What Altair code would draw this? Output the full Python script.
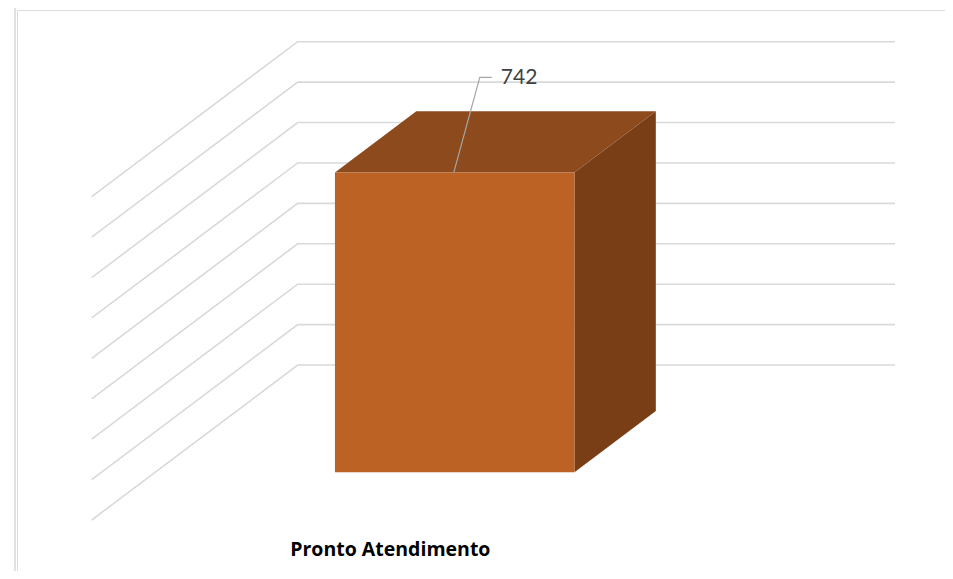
import altair as alt
import pandas as pd

# ---------------- data ----------------
categories = ["Pronto Atendimento"]
values = [742]
grid_values = [0, 100, 200, 300, 400, 500, 600, 700, 800]

# ---------------- geometry / style ----------------
VIEW_LEFT, VIEW_TOP = 17, 10          # page position of the plot view
W, H = 928, 561                       # plot view size
WALL_X0, FLOOR_Y0 = 297.7, 365.0      # page position of back-wall origin (u=0, v=0, depth 0)
PX_PER_U = 597.3                      # pixels per category band along the back wall
PX_PER_V = 0.4041                     # pixels per value unit
DEPTH_DX, DEPTH_DY = 206.0, 155.0     # oblique shift (left, down) for full depth
KX = DEPTH_DX / PX_PER_U
KY = DEPTH_DY / PX_PER_V
BAR_U = (0.301, 0.702)                # bar extent within its category band
BAR_W = (0.297, 0.692)                # bar extent in depth

x0 = WALL_X0 - VIEW_LEFT
y0 = FLOOR_Y0 - VIEW_TOP
xdom = [-x0 / PX_PER_U, (W - x0) / PX_PER_U]
ydom = [(y0 - H) / PX_PER_V, y0 / PX_PER_V]


def px(u, w):
    return u - KX * w


def pv(v, w):
    return v - KY * w


xs = alt.Scale(domain=xdom, range=[0, W], nice=False, zero=False)
ys = alt.Scale(domain=ydom, range=[H, 0], nice=False, zero=False)

# gridlines (back wall + side wall)
grid_rows = []
for g in grid_values:
    for i, (u, w) in enumerate([(1, 0), (0, 0), (0, 1)]):
        grid_rows.append({"g": g, "o": i, "x": px(u, w), "y": pv(g, w)})
grid_df = pd.DataFrame(grid_rows)

grid = alt.Chart(grid_df).mark_line(color="#D9D9D9", strokeWidth=1.6).encode(
    x=alt.X("x:Q", scale=xs, axis=None),
    y=alt.Y("y:Q", scale=ys, axis=None),
    detail="g:N",
    order="o:Q",
)

layers = [grid]
for ci, (cat, val) in enumerate(zip(categories, values)):
    u_l, u_r = ci + BAR_U[0], ci + BAR_U[1]
    w_b, w_f = BAR_W
    u_c = ci + 0.5

    right_df = pd.DataFrame({
        "x": [px(u_r, w_b), px(u_r, w_f)],
        "y": [pv(0, w_b), pv(0, w_f)],
        "y2": [pv(val, w_b), pv(val, w_f)],
    })
    right = alt.Chart(right_df).mark_area(orient="vertical", color="#7A3E16").encode(
        x=alt.X("x:Q", scale=xs, axis=None),
        y=alt.Y("y:Q", scale=ys, axis=None),
        y2="y2:Q",
    )

    top_df = pd.DataFrame({
        "y": [pv(val, w_b), pv(val, w_f)],
        "x": [px(u_l, w_b), px(u_l, w_f)],
        "x2": [px(u_r, w_b), px(u_r, w_f)],
    })
    top = alt.Chart(top_df).mark_area(orient="horizontal", color="#8C4A1D").encode(
        y=alt.Y("y:Q", scale=ys, axis=None),
        x=alt.X("x:Q", scale=xs, axis=None),
        x2="x2:Q",
    )

    front_df = pd.DataFrame({
        "x": [px(u_l, w_f)], "x2": [px(u_r, w_f)],
        "y": [pv(0, w_f)], "y2": [pv(val, w_f)],
    })
    front = alt.Chart(front_df).mark_rect(color="#BC6225").encode(
        x=alt.X("x:Q", scale=xs, axis=None), x2="x2:Q",
        y=alt.Y("y:Q", scale=ys, axis=None), y2="y2:Q",
    )

    # data label with leader line (label moved up-right of the bar top)
    ax_, ay_ = px(u_c, w_f), pv(val, w_f)
    lx_, ly_ = ax_ + 26 / PX_PER_U, ay_ + 95 / PX_PER_V
    leader_df = pd.DataFrame({
        "o": [0, 1, 2],
        "x": [ax_, lx_, lx_ + 12 / PX_PER_U],
        "y": [ay_, ly_, ly_],
    })
    leader = alt.Chart(leader_df).mark_line(color="#A6A6A6", strokeWidth=1.2).encode(
        x=alt.X("x:Q", scale=xs, axis=None),
        y=alt.Y("y:Q", scale=ys, axis=None),
        order="o:Q",
    )
    label_df = pd.DataFrame({"x": [lx_], "y": [ly_], "t": [str(val)]})
    label = alt.Chart(label_df).mark_text(
        align="left", baseline="middle", dx=21, dy=1,
        font="Lato", fontSize=21, color="#404040",
    ).encode(
        x=alt.X("x:Q", scale=xs, axis=None),
        y=alt.Y("y:Q", scale=ys, axis=None),
        text="t:N",
    )

    cat_df = pd.DataFrame({"x": [px(u_c, 1)], "y": [pv(0, 1)], "t": [cat]})
    cat_label = alt.Chart(cat_df).mark_text(
        align="center", baseline="middle", dy=30,
        font="Open Sans", fontWeight="bold", fontSize=19.5, color="#000000",
    ).encode(
        x=alt.X("x:Q", scale=xs, axis=None),
        y=alt.Y("y:Q", scale=ys, axis=None),
        text="t:N",
    )
    layers += [right, top, front, leader, label, cat_label]

# chart border (top and left edges visible in the frame)
dummy = pd.DataFrame({"a": [0]})
border_top = alt.Chart(dummy).mark_rule(color="#D9D9D9", strokeWidth=1.5).encode(
    x=alt.value(-2), x2=alt.value(W + 20), y=alt.value(-3)
)
border_left = alt.Chart(dummy).mark_rule(color="#D9D9D9", strokeWidth=1.5).encode(
    x=alt.value(-2), y=alt.value(-3), y2=alt.value(H + 20)
)
layers += [border_top, border_left]

chart = alt.layer(*layers).properties(
    width=W, height=H,
    autosize=alt.AutoSizeParams(type="none"),
    padding={"left": VIEW_LEFT - 8, "top": VIEW_TOP - 8, "right": 0, "bottom": 0},
).configure_view(stroke=None).configure(background="#FFFFFF")

chart.save("out.html", embed_options={"renderer": "svg", "actions": False})
